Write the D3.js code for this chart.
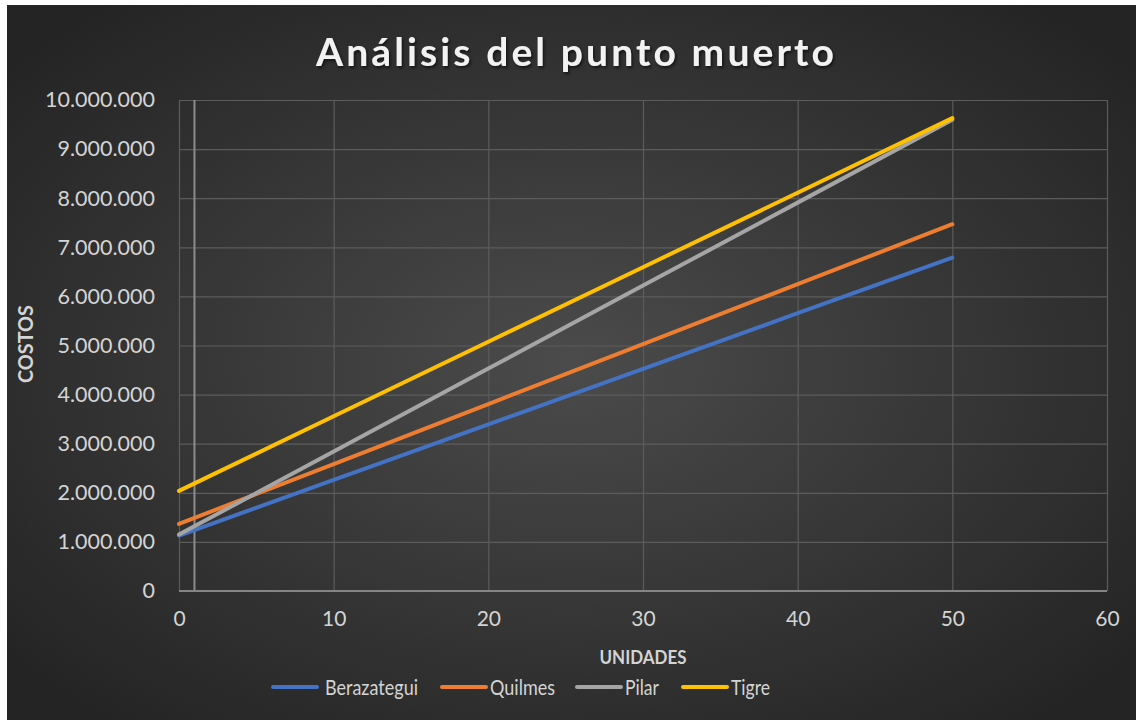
<!DOCTYPE html>
<html>
<head>
<meta charset="utf-8">
<script src="https://cdn.jsdelivr.net/npm/d3@7"></script>
<style>
  html, body { margin: 0; padding: 0; background: #ffffff; }
  svg { display: block; }
  text { font-family: Lato, "Open Sans", sans-serif; }
</style>
</head>
<body>
<svg id="chart" width="1136" height="720"></svg>
<script>
// Units produced (x) and total cost per plant (y)
const unidades = [0, 10, 20, 30, 40, 50];
const berazategui = [1130000, 2262000, 3394000, 4526000, 5658000, 6790000];
const quilmes     = [1365000, 2586000, 3807000, 5028000, 6249000, 7470000];
const pilar       = [1150000, 2840000, 4530000, 6220000, 7910000, 9600000];
const tigre       = [2040000, 3558000, 5076000, 6594000, 8112000, 9630000];

const seriesNames  = ["Berazategui", "Quilmes", "Pilar", "Tigre"];
const seriesValues = [berazategui, quilmes, pilar, tigre];
const seriesColors = ["#4472C4", "#ED7D31", "#A5A5A5", "#FFC000"];

const xTicks = [0, 10, 20, 30, 40, 50, 60];
const yTicks = [0, 1000000, 2000000, 3000000, 4000000, 5000000, 6000000, 7000000, 8000000, 9000000, 10000000];
const markerUnits = [1];

const svg = d3.select("#chart");
const W = 1136, H = 720;

// Chart frame with dark radial fill
const defs = svg.append("defs");
const grad = defs.append("radialGradient")
  .attr("id", "bg").attr("cx", "50%").attr("cy", "50%").attr("r", "65%");
grad.append("stop").attr("offset", "0%").attr("stop-color", "#4b4b4b");
grad.append("stop").attr("offset", "100%").attr("stop-color", "#242424");

const shadow = defs.append("filter").attr("id", "tshadow")
  .attr("x", "-10%").attr("y", "-30%").attr("width", "120%").attr("height", "160%");
shadow.append("feDropShadow").attr("dx", 1.5).attr("dy", 2).attr("stdDeviation", 1.5)
  .attr("flood-color", "#000").attr("flood-opacity", 0.6);

svg.append("rect").attr("x", 7).attr("y", 5).attr("width", W - 7).attr("height", H - 5)
  .attr("fill", "url(#bg)");

const x = d3.scaleLinear().domain([0, 60]).range([179, 1107]);
const y = d3.scaleLinear().domain([0, 10000000]).range([591, 100]);

const es = d3.formatLocale({ decimal: ",", thousands: ".", grouping: [3], currency: ["", ""] });
const fmt = es.format(",d");

// Gridlines
svg.append("g")
  .attr("transform", `translate(${x(0)},0)`)
  .call(d3.axisLeft(y).tickValues(yTicks).tickSize(-(x(60) - x(0))).tickFormat(""))
  .call(g => g.select(".domain").remove())
  .call(g => g.selectAll("line").attr("stroke", "#5c5c5c").attr("stroke-width", 1.2));

svg.append("g")
  .attr("transform", `translate(0,${y(0)})`)
  .call(d3.axisBottom(x).tickValues(xTicks).tickSize(-(y(0) - y(10000000))).tickFormat(""))
  .call(g => g.select(".domain").remove())
  .call(g => g.selectAll("line").attr("stroke", "#5c5c5c").attr("stroke-width", 1.2));

// Reference marker
svg.append("g").selectAll("line").data(markerUnits).join("line")
  .attr("x1", d => x(d)).attr("x2", d => x(d))
  .attr("y1", y(10000000)).attr("y2", y(0))
  .attr("stroke", "#8c8c8c").attr("stroke-width", 2);

// Horizontal axis line
svg.append("line")
  .attr("x1", x(0)).attr("x2", x(60)).attr("y1", y(0)).attr("y2", y(0))
  .attr("stroke", "#858585").attr("stroke-width", 2);

// Tick labels
const yAxis = svg.append("g")
  .attr("transform", `translate(${x(0)},0)`)
  .call(d3.axisLeft(y).tickValues(yTicks).tickSize(0).tickPadding(24).tickFormat(fmt));
yAxis.select(".domain").remove();
yAxis.selectAll("text")
  .attr("fill", "#d4d4d4").style("font-size", "21.5px").style("font-family", "Lato, sans-serif");

const xAxis = svg.append("g")
  .attr("transform", `translate(0,${y(0)})`)
  .call(d3.axisBottom(x).tickValues(xTicks).tickSize(0).tickPadding(20).tickFormat(d3.format("d")));
xAxis.select(".domain").remove();
xAxis.selectAll("text")
  .attr("fill", "#d4d4d4").style("font-size", "21px").style("font-family", "Lato, sans-serif");

// Series lines
const line = d3.line().x((d, i) => x(unidades[i])).y(d => y(d));
svg.append("g").selectAll("path").data(seriesValues).join("path")
  .attr("d", d => line(d))
  .attr("fill", "none")
  .attr("stroke", (d, i) => seriesColors[i])
  .attr("stroke-width", 4)
  .attr("stroke-linecap", "round")
  .attr("stroke-linejoin", "round");

// Title
svg.append("text")
  .attr("x", 575).attr("y", 66)
  .attr("text-anchor", "middle")
  .attr("fill", "#f2f2f2")
  .attr("filter", "url(#tshadow)")
  .style("font-size", "39px").style("font-weight", "bold")
  .attr("textLength", 518).attr("lengthAdjust", "spacing")
  .text("Análisis del punto muerto");

// Axis titles
svg.append("text")
  .attr("x", 643).attr("y", 664)
  .attr("text-anchor", "middle")
  .attr("fill", "#d4d4d4")
  .style("font-size", "19.5px").style("font-weight", "bold")
  .attr("textLength", 87).attr("lengthAdjust", "spacingAndGlyphs")
  .text("UNIDADES");

svg.append("text")
  .attr("transform", "translate(33,344) rotate(-90)")
  .attr("text-anchor", "middle")
  .attr("fill", "#d4d4d4")
  .style("font-size", "20px").style("font-weight", "bold")
  .attr("textLength", 78).attr("lengthAdjust", "spacingAndGlyphs")
  .text("COSTOS");

// Legend
const legendX = [273, 442, 577, 683];
const legend = svg.append("g").selectAll("g").data(seriesNames).join("g")
  .attr("transform", (d, i) => `translate(${legendX[i]},687)`);
legend.append("line")
  .attr("x1", 0).attr("x2", 44).attr("y1", 0).attr("y2", 0)
  .attr("stroke", (d, i) => seriesColors[i])
  .attr("stroke-width", 4)
  .attr("stroke-linecap", "round");
legend.append("text")
  .attr("x", (d, i) => i === 0 ? 52 : 48).attr("y", 7.5)
  .attr("fill", "#d4d4d4")
  .style("font-size", "20.5px")
  .attr("textLength", (d, i) => [93, 65, 34, 39][i]).attr("lengthAdjust", "spacingAndGlyphs")
  .text(d => d);
</script>
</body>
</html>
